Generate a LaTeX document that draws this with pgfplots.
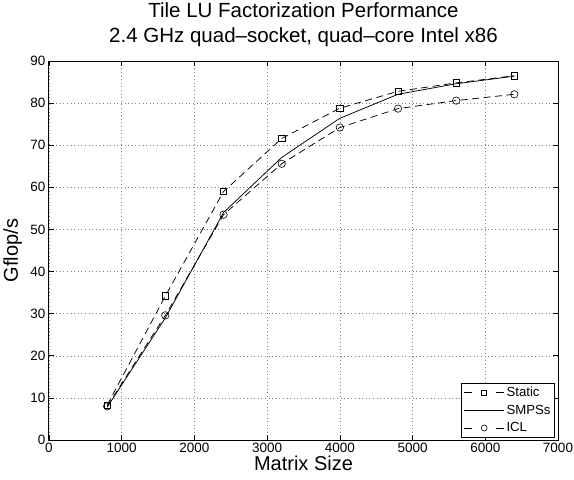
\documentclass[border=0pt]{standalone}
\usepackage{pgfplots}
\pgfplotsset{compat=1.18}
\usepackage{fontspec}
\setmainfont{Liberation Sans}
\pgfplotsset{
  dashleg/.style={legend image code/.code={%
    \draw[##1, dash pattern=on 8pt off 24pt on 8pt] (0pt,0pt) -- (40pt,0pt);
    \draw[##1, only marks, mark size=#1] plot coordinates {(20pt,0pt)};}},
}
\begin{document}
\begin{tikzpicture}[x=1pt,y=1pt]
\path[use as bounding box] (-49,-40) rectangle (525,440);
\begin{axis}[
  at={(0,0)}, anchor=south west,
  scale only axis, width=509pt, height=379pt,
  xmin=0, xmax=7000, ymin=0, ymax=90,
  xtick={0,1000,...,7000}, ytick={0,10,...,90},
  scaled x ticks=false,
  /pgf/number format/assume math mode=true,
  /pgf/number format/set thousands separator={},
  tick label style={font=\fontsize{13.5}{15}\selectfont},
  label style={font=\fontsize{20}{24}\selectfont},
  title style={font=\fontsize{20.5}{25}\selectfont, align=center, yshift=4.5pt},
  title={Tile LU Factorization Performance\\2.4 GHz quad\textendash socket, quad\textendash core Intel x86},
  xlabel={Matrix Size}, ylabel={Gflop/s},
  xlabel style={yshift=3.7pt}, ylabel style={yshift=1.5pt},
  tick align=inside, major tick length=5pt,
  every tick/.style={black, line width=0.6pt},
  grid=major, grid style={black!50, line width=0.5pt, dash pattern=on 0.8pt off 2.8pt},
  axis line style={line width=1pt},
  legend style={font=\fontsize{13.2}{15}\selectfont, draw=black, line width=0.8pt, fill=white,
    at={(0.994,0.005)}, anchor=south east, inner xsep=2pt, inner ysep=1.5pt,
    nodes={inner sep=2pt, text height=9.8pt, text depth=2.6pt}, row sep=1.2pt},
  legend cell align=left,
  legend image code/.code={\draw[#1] (0pt,0pt) -- (40pt,0pt);},
]
\addplot[black, dash pattern=on 7pt off 4.5pt, mark=square, mark size=3.2pt, mark options={solid, line width=0.6pt}, line width=0.75pt, dashleg=2.6pt] coordinates {
(800,8.3) (1600,34.2) (2400,59.0) (3200,71.6) (4000,78.8) (4800,82.8) (5600,84.8) (6400,86.5)};
\addlegendentry{Static}
\addplot[black, solid, line width=0.75pt] coordinates {
(800,7.8) (1600,29.0) (2400,54.0) (3200,67.1) (4000,76.4) (4800,82.1) (5600,84.6) (6400,86.4)};
\addlegendentry{SMPSs}
\addplot[black, dash pattern=on 7pt off 4.5pt, mark=o, mark size=3.7pt, mark options={solid, line width=0.6pt}, line width=0.75pt, dashleg=3pt] coordinates {
(800,8.0) (1600,29.6) (2400,53.5) (3200,65.6) (4000,74.2) (4800,78.7) (5600,80.6) (6400,82.1)};
\addlegendentry{ICL}
\end{axis}
\end{tikzpicture}
\end{document}
